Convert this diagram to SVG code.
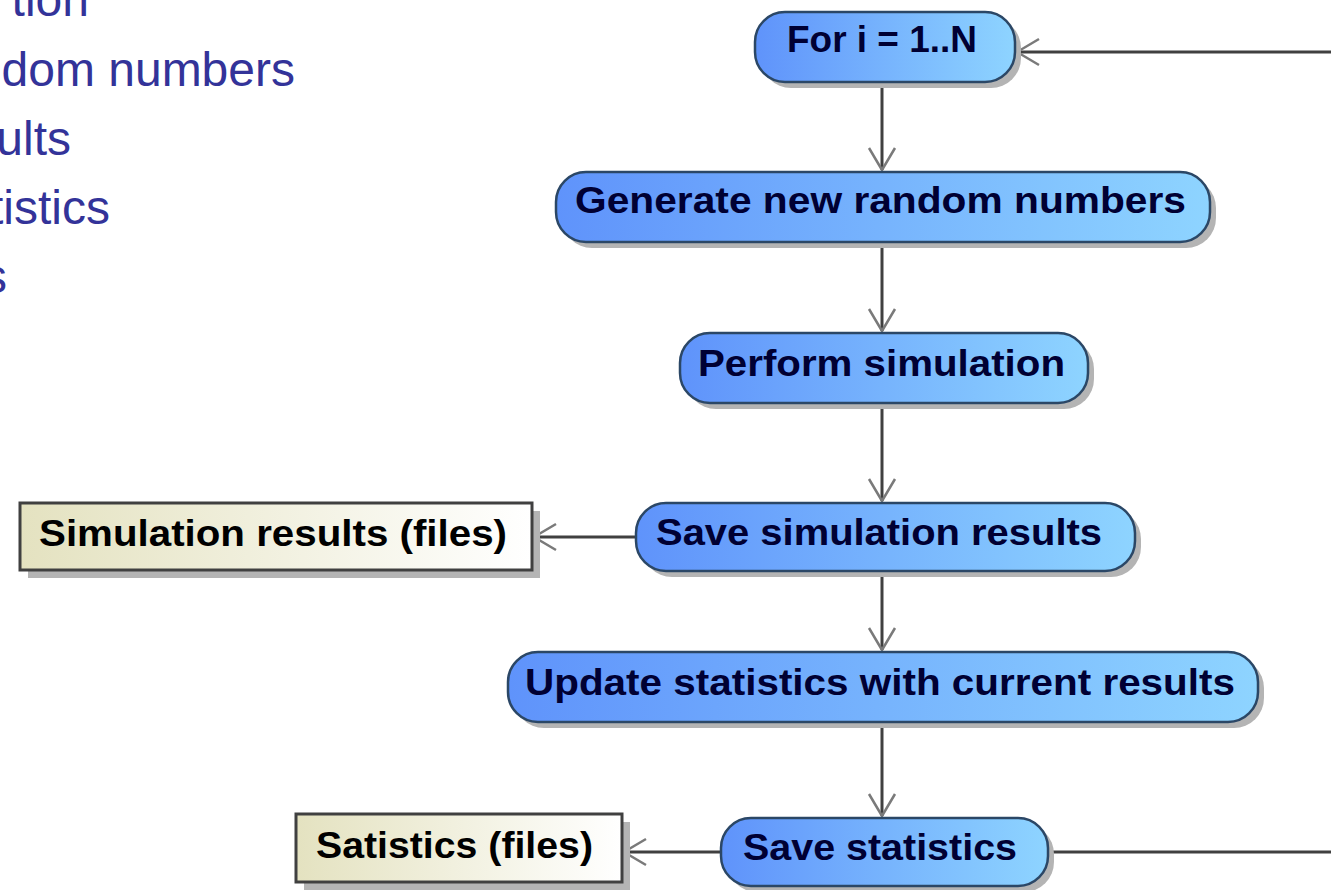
<svg xmlns="http://www.w3.org/2000/svg" width="1331" height="890" viewBox="0 0 1331 890">
<defs>
<linearGradient id="pill" x1="0" y1="0" x2="1" y2="0">
<stop offset="0" stop-color="#5f93fb"/>
<stop offset="1" stop-color="#8ed4ff"/>
</linearGradient>
<linearGradient id="file" x1="0" y1="0" x2="1" y2="0">
<stop offset="0" stop-color="#e4e2c0"/>
<stop offset="1" stop-color="#ffffff"/>
</linearGradient>
<marker id="arr" viewBox="-25 -16 28 32" markerWidth="28" markerHeight="32" refX="0" refY="0" markerUnits="userSpaceOnUse" orient="auto">
<path d="M-22,-13 L0,0 L-22,13" fill="none" stroke="#7a7a7a" stroke-width="2.5"/>
</marker>
<style>
.bul{font-family:"Liberation Sans",Arial,sans-serif;font-size:48px;fill:#333399}
.shadow{fill:#b4b4b4}
.pill{fill:url(#pill);stroke:#2b4766;stroke-width:2.5}
.file{fill:url(#file);stroke:#404040;stroke-width:3}
.lbl{font-family:"Liberation Sans",Arial,sans-serif;font-weight:bold;font-size:36px;fill:#000033}
.flbl{font-family:"Liberation Sans",Arial,sans-serif;font-weight:bold;font-size:36px;fill:#000000}
.conn{fill:none;stroke:#404040;stroke-width:3}
</style>
</defs>
<rect width="1331" height="890" fill="#ffffff"/>
<g id="bullets">
<text class="bul" x="89" y="16" text-anchor="end">tion</text>
<text class="bul" x="295" y="86" text-anchor="end">dom numbers</text>
<text class="bul" x="71" y="155" text-anchor="end">ults</text>
<text class="bul" x="110" y="224" text-anchor="end">tistics</text>
<text class="bul" x="7" y="293" text-anchor="end">s</text>
</g>
<g id="connectors">
<line class="conn" x1="882" y1="82" x2="882" y2="170" marker-end="url(#arr)"/>
<line class="conn" x1="882" y1="242" x2="882" y2="331" marker-end="url(#arr)"/>
<line class="conn" x1="882" y1="403" x2="882" y2="501" marker-end="url(#arr)"/>
<line class="conn" x1="882" y1="570" x2="882" y2="650" marker-end="url(#arr)"/>
<line class="conn" x1="882" y1="722" x2="882" y2="816" marker-end="url(#arr)"/>
<line class="conn" x1="636" y1="537" x2="534" y2="537" marker-end="url(#arr)"/>
<line class="conn" x1="721" y1="852" x2="624" y2="852" marker-end="url(#arr)"/>
<path class="conn" d="M1048,852 H1334 V52 H1017" marker-end="url(#arr)"/>
</g>
<g id="node-for">
<rect class="shadow" x="761" y="18" width="260" height="70" rx="30"/>
<rect class="pill" x="755" y="12" width="260" height="70" rx="30"/>
<text class="lbl" x="787" y="52" textLength="190" lengthAdjust="spacingAndGlyphs">For i = 1..N</text>
</g>
<g id="node-generate">
<rect class="shadow" x="562" y="178" width="654" height="70" rx="30"/>
<rect class="pill" x="556" y="172" width="654" height="70" rx="30"/>
<text class="lbl" x="575" y="213" textLength="611" lengthAdjust="spacingAndGlyphs">Generate new random numbers</text>
</g>
<g id="node-perform">
<rect class="shadow" x="686" y="339" width="408" height="70" rx="30"/>
<rect class="pill" x="680" y="333" width="408" height="70" rx="30"/>
<text class="lbl" x="698" y="376" textLength="367" lengthAdjust="spacingAndGlyphs">Perform simulation</text>
</g>
<g id="node-save-sim">
<rect class="shadow" x="642" y="509" width="499" height="68" rx="30"/>
<rect class="pill" x="636" y="503" width="499" height="68" rx="30"/>
<text class="lbl" x="656" y="545" textLength="446" lengthAdjust="spacingAndGlyphs">Save simulation results</text>
</g>
<g id="node-update">
<rect class="shadow" x="514" y="658" width="750" height="70" rx="30"/>
<rect class="pill" x="508" y="652" width="750" height="70" rx="30"/>
<text class="lbl" x="525" y="695" textLength="710" lengthAdjust="spacingAndGlyphs">Update statistics with current results</text>
</g>
<g id="node-save-stats">
<rect class="shadow" x="727" y="824" width="327" height="68" rx="30"/>
<rect class="pill" x="721" y="818" width="327" height="68" rx="30"/>
<text class="lbl" x="743" y="860" textLength="274" lengthAdjust="spacingAndGlyphs">Save statistics</text>
</g>
<g id="file-sim-results">
<rect class="shadow" x="28" y="511" width="512" height="67"/>
<rect class="file" x="20" y="503" width="512" height="67"/>
<text class="flbl" x="39" y="546" textLength="468" lengthAdjust="spacingAndGlyphs">Simulation results (files)</text>
</g>
<g id="file-statistics">
<rect class="shadow" x="304" y="822" width="326" height="68"/>
<rect class="file" x="296" y="814" width="326" height="68"/>
<text class="flbl" x="316" y="858" textLength="277" lengthAdjust="spacingAndGlyphs">Satistics (files)</text>
</g>
</svg>
